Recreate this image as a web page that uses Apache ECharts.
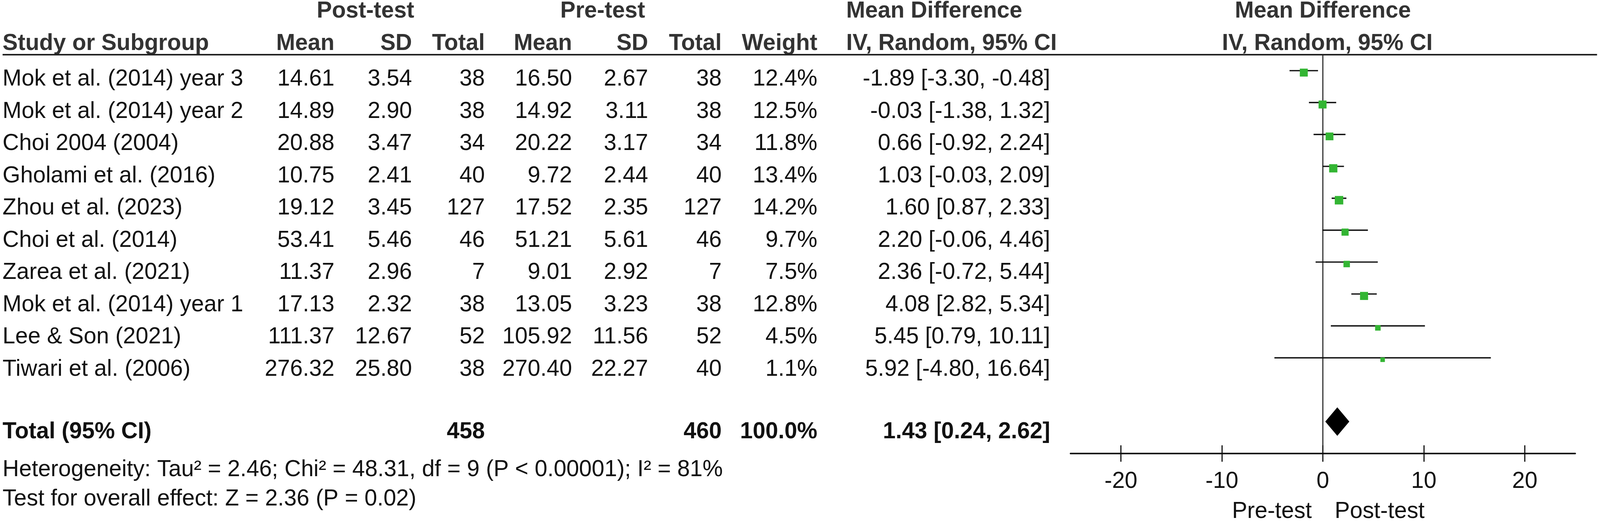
<!DOCTYPE html>
<html>
<head>
<meta charset="utf-8">
<script src="https://cdn.jsdelivr.net/npm/echarts@6/dist/echarts.min.js"></script>
<style>html,body{margin:0;padding:0;background:#fff;overflow:hidden}#c{width:100vw;height:100vh}</style>
</head>
<body>
<div id="c"></div>
<script>
// ---------- DATA ----------
const studies = ["Mok et al. (2014) year 3","Mok et al. (2014) year 2","Choi 2004 (2004)","Gholami et al. (2016)","Zhou et al. (2023)","Choi et al. (2014)","Zarea et al. (2021)","Mok et al. (2014) year 1","Lee & Son (2021)","Tiwari et al. (2006)"];
const postMean = [14.61,14.89,20.88,10.75,19.12,53.41,11.37,17.13,111.37,276.32];
const postSD   = [3.54,2.90,3.47,2.41,3.45,5.46,2.96,2.32,12.67,25.80];
const postN    = [38,38,34,40,127,46,7,38,52,38];
const preMean  = [16.50,14.92,20.22,9.72,17.52,51.21,9.01,13.05,105.92,270.40];
const preSD    = [2.67,3.11,3.17,2.44,2.35,5.61,2.92,3.23,11.56,22.27];
const preN     = [38,38,34,40,127,46,7,38,52,40];
const weight   = [12.4,12.5,11.8,13.4,14.2,9.7,7.5,12.8,4.5,1.1];
const md       = [-1.89,-0.03,0.66,1.03,1.60,2.20,2.36,4.08,5.45,5.92];
const ciLow    = [-3.30,-1.38,-0.92,-0.03,0.87,-0.06,-0.72,2.82,0.79,-4.80];
const ciHigh   = [-0.48,1.32,2.24,2.09,2.33,4.46,5.44,5.34,10.11,16.64];
const totalPostN = 458, totalPreN = 460, totalWeight = 100.0;
const totalMD = 1.43, totalLow = 0.24, totalHigh = 2.62;
const heterogeneity = "Heterogeneity: Tau\u00B2 = 2.46; Chi\u00B2 = 48.31, df = 9 (P < 0.00001); I\u00B2 = 81%";
const overallTest = "Test for overall effect: Z = 2.36 (P = 0.02)";
const xTicks = [-20,-10,0,10,20];
const leftFavour = "Pre-test", rightFavour = "Post-test";

// ---------- LAYOUT (reference pixel space 4330 x 1344, scaled to container) ----------
const el = document.getElementById('c');
const CW = el.clientWidth, CH = el.clientHeight;
const sx = CW/4330, sy = CH/1344, k = Math.sqrt(sx*sy);
const FONT = "'Liberation Sans', Arial, sans-serif";
const FS = 60*k;
const BODY = '#111', HEAD = '#333', GREEN = '#33b533';
const col = {study:7, postMean:905, postSD:1115, postN:1312, preMean:1548, preSD:1754, preN:1953, weight:2212, mdLeft:2290, ci:2842, plotCenter:3580};
const rowY = i => 203 + 82.5*i;
const Y = {group:29, head:112, total:1106, het:1203, test:1278};

const cells = [];
function cell(x,y,text,align,bold,color){cells.push({x,y,text,align,bold:!!bold,color:color||BODY});}
cell(989, Y.group, "Post-test", 'center', true, HEAD);
cell(1631, Y.group, "Pre-test", 'center', true, HEAD);
cell(col.mdLeft, Y.group, "Mean Difference", 'left', true, HEAD);
cell(col.plotCenter, Y.group, "Mean Difference", 'center', true, HEAD);
cell(col.study, Y.head, "Study or Subgroup", 'left', true, HEAD);
cell(col.postMean, Y.head, "Mean", 'right', true, HEAD);
cell(col.postSD, Y.head, "SD", 'right', true, HEAD);
cell(col.postN, Y.head, "Total", 'right', true, HEAD);
cell(col.preMean, Y.head, "Mean", 'right', true, HEAD);
cell(col.preSD, Y.head, "SD", 'right', true, HEAD);
cell(col.preN, Y.head, "Total", 'right', true, HEAD);
cell(col.weight, Y.head, "Weight", 'right', true, HEAD);
cell(col.mdLeft, Y.head, "IV, Random, 95% CI", 'left', true, HEAD);
cell(col.plotCenter+12, Y.head, "IV, Random, 95% CI", 'center', true, HEAD);
const f2 = v => v.toFixed(2);
studies.forEach((s,i)=>{
  const y = rowY(i);
  cell(col.study, y, s, 'left');
  cell(col.postMean, y, f2(postMean[i]), 'right');
  cell(col.postSD, y, f2(postSD[i]), 'right');
  cell(col.postN, y, String(postN[i]), 'right');
  cell(col.preMean, y, f2(preMean[i]), 'right');
  cell(col.preSD, y, f2(preSD[i]), 'right');
  cell(col.preN, y, String(preN[i]), 'right');
  cell(col.weight, y, weight[i].toFixed(1)+'%', 'right');
  cell(col.ci, y, f2(md[i])+' ['+f2(ciLow[i])+', '+f2(ciHigh[i])+']', 'right');
});
cell(col.study, Y.total, "Total (95% CI)", 'left', true);
cell(col.postN, Y.total, String(totalPostN), 'right', true);
cell(col.preN, Y.total, String(totalPreN), 'right', true);
cell(col.weight, Y.total, totalWeight.toFixed(1)+'%', 'right', true);
cell(col.ci, Y.total, f2(totalMD)+' ['+f2(totalLow)+', '+f2(totalHigh)+']', 'right', true);
cell(col.study, Y.het, heterogeneity, 'left');
cell(col.study, Y.test, overallTest, 'left');

const forestData = studies.map((s,i)=>[md[i], ciLow[i], ciHigh[i], weight[i], i]);
const totalRow = 11;

const chart = echarts.init(el, null, {renderer:'canvas'});
const axisCommon = {type:'value', min:-25, max:25, gridIndex:1, position:'bottom', splitLine:{show:false}};
chart.setOption({
  backgroundColor:'#fff',
  animation:false,
  grid:[
    {left:0, right:0, top:0, bottom:0},
    {left:2897*sx, right:67*sx, top:140*sy, bottom:170*sy}
  ],
  xAxis:[
    {type:'value', gridIndex:0, min:0, max:4330, show:false},
    Object.assign({}, axisCommon, {
      axisLine:{show:true, onZero:false, lineStyle:{color:'#111', width:4*k}},
      axisTick:{show:true, customValues:xTicks, length:21*sy, lineStyle:{color:'#111', width:3*k}},
      axisLabel:{show:true, customValues:xTicks, fontSize:FS, fontFamily:FONT, color:BODY, margin:43*sy},
      name:leftFavour, nameLocation:'middle', nameGap:120*sy,
      nameTextStyle:{fontSize:FS, fontFamily:FONT, color:BODY, align:'right', padding:[0,30*sx,0,0]}
    }),
    Object.assign({}, axisCommon, {
      axisLine:{show:false, onZero:false},
      axisTick:{show:true, inside:true, customValues:xTicks, length:21*sy, lineStyle:{color:'#111', width:3*k}},
      axisLabel:{show:false},
      name:rightFavour, nameLocation:'middle', nameGap:120*sy,
      nameTextStyle:{fontSize:FS, fontFamily:FONT, color:BODY, align:'left', padding:[0,0,0,32*sx]}
    })
  ],
  yAxis:[
    {type:'value', gridIndex:0, min:0, max:1344, inverse:true, show:false},
    {type:'value', gridIndex:1, min:-0.5, max:12, inverse:true,
     axisLine:{show:true, onZero:true, lineStyle:{color:'#333', width:3*k}},
     axisTick:{show:false}, axisLabel:{show:false}, splitLine:{show:false}}
  ],
  graphic:[
    {type:'line', shape:{x1:7*sx, y1:140*sy, x2:4322*sx, y2:140*sy}, style:{stroke:'#222', lineWidth:4*k}, z:10}
  ],
  series:[
    {
      type:'custom', xAxisIndex:0, yAxisIndex:0, clip:false, silent:true,
      data:cells.map(c=>[c.x,c.y]),
      renderItem:(params, api)=>{
        const c = cells[params.dataIndex];
        const p = api.coord([api.value(0), api.value(1)]);
        return {type:'text', x:p[0], y:p[1], style:{
          text:c.text, align:c.align, verticalAlign:'middle',
          font:(c.bold?'bold ':'')+FS+'px '+FONT, fill:c.color}};
      }
    },
    {
      type:'custom', xAxisIndex:1, yAxisIndex:1, clip:false, silent:true,
      encode:{x:0, y:4},
      data:forestData,
      renderItem:(params, api)=>{
        const m = api.value(0), lo = api.value(1), hi = api.value(2), w = api.value(3), r = api.value(4);
        const a = api.coord([lo, r]), b = api.coord([hi, r]), c = api.coord([m, r]);
        const s = (11 + 0.8*w)*k;
        return {type:'group', children:[
          {type:'line', shape:{x1:a[0], y1:a[1], x2:b[0], y2:b[1]}, style:{stroke:'#111', lineWidth:3.5*k}},
          {type:'rect', shape:{x:c[0]-s/2, y:c[1]-s/2+5*sy, width:s, height:s}, style:{fill:GREEN}}
        ]};
      }
    },
    {
      type:'custom', xAxisIndex:1, yAxisIndex:1, clip:false, silent:true,
      encode:{x:0, y:3},
      data:[[totalMD, totalLow, totalHigh, totalRow]],
      renderItem:(params, api)=>{
        const m = api.value(0), lo = api.value(1), hi = api.value(2), r = api.value(3);
        const a = api.coord([lo, r]), b = api.coord([hi, r]), c = api.coord([m, r]);
        const h = 73*sy;
        return {type:'polygon', shape:{points:[[a[0],a[1]],[c[0],c[1]-h/2],[b[0],b[1]],[c[0],c[1]+h/2]]}, style:{fill:'#000'}};
      }
    }
  ]
});
</script>
</body>
</html>
